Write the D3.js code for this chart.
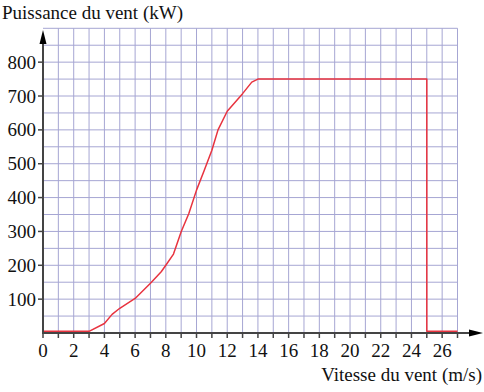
<!DOCTYPE html>
<html>
<head>
<meta charset="utf-8">
<script src="https://cdn.jsdelivr.net/npm/d3@7"></script>
<style>
  body { margin: 0; background: #fff; }
</style>
</head>
<body>
<svg width="484" height="392"></svg>
<script>
// vitesse du vent (m/s) et puissance (kW)
var vitesse = [0, 3, 4, 4.5, 5, 6, 7, 7.7, 8, 8.5, 9, 9.5, 10, 10.5, 11, 11.4, 12, 13, 13.6, 14, 25, 25, 27];
var puissance = [5, 5, 28, 55, 73, 102, 147, 181, 200, 233, 299, 353, 422, 480, 540, 600, 655, 707, 741, 750, 750, 5, 5];
var xTicks = [0, 2, 4, 6, 8, 10, 12, 14, 16, 18, 20, 22, 24, 26];
var yTicks = [100, 200, 300, 400, 500, 600, 700, 800];

var svg = d3.select('svg')
    .attr('font-family', "'Liberation Serif', 'DejaVu Serif', 'Times New Roman', serif");

// échelles
var x = d3.scaleLinear().domain([0, 27]).range([43, 457.5]);
var y = d3.scaleLinear().domain([0, 900]).range([333, 28.3]);

// quadrillage
var grid = svg.append('g').attr('stroke', '#a6a6d3').attr('stroke-width', 1);
grid.selectAll('line.v')
    .data(d3.range(1, 28))
    .enter().append('line')
    .attr('x1', d => x(d)).attr('x2', d => x(d))
    .attr('y1', y(0)).attr('y2', y(900));
grid.selectAll('line.h')
    .data(d3.range(50, 901, 50))
    .enter().append('line')
    .attr('x1', x(0)).attr('x2', x(27))
    .attr('y1', d => y(d)).attr('y2', d => y(d));

// courbe
var pts = vitesse.map((v, i) => [v, puissance[i]]);
var line = d3.line().x(d => x(d[0])).y(d => y(d[1]));
svg.append('path')
    .datum(pts)
    .attr('d', line)
    .attr('fill', 'none')
    .attr('stroke', '#e8333f')
    .attr('stroke-width', 1.5)
    .attr('stroke-linejoin', 'round');

// axes
var axisCol = '#444';
svg.append('line')
    .attr('x1', x(0)).attr('x2', 471)
    .attr('y1', y(0)).attr('y2', y(0))
    .attr('stroke', axisCol).attr('stroke-width', 2);
svg.append('line')
    .attr('x1', x(0)).attr('x2', x(0))
    .attr('y1', y(0) + 1).attr('y2', 42)
    .attr('stroke', axisCol).attr('stroke-width', 2);
// flèches
svg.append('path')
    .attr('d', `M483,${y(0)} L469,${y(0) - 3.5} L469,${y(0) + 3.5} Z`)
    .attr('fill', '#000');
svg.append('path')
    .attr('d', `M${x(0)},30 L${x(0) - 3.5},44 L${x(0) + 3.5},44 Z`)
    .attr('fill', '#000');

// graduations x
svg.selectAll('line.xt')
    .data(d3.range(0, 28))
    .enter().append('line')
    .attr('x1', d => x(d)).attr('x2', d => x(d))
    .attr('y1', y(0)).attr('y2', y(0) + 5)
    .attr('stroke', axisCol).attr('stroke-width', 1.5);
svg.selectAll('text.xl')
    .data(xTicks)
    .enter().append('text')
    .attr('x', d => x(d)).attr('y', 357)
    .attr('text-anchor', 'middle')
    .attr('font-size', 19)
    .attr('fill', '#111')
    .text(d => d);

// graduations y
svg.selectAll('line.yt')
    .data(yTicks)
    .enter().append('line')
    .attr('x1', x(0) - 5).attr('x2', x(0))
    .attr('y1', d => y(d)).attr('y2', d => y(d))
    .attr('stroke', axisCol).attr('stroke-width', 1.5);
svg.selectAll('text.yl')
    .data(yTicks)
    .enter().append('text')
    .attr('x', 36).attr('y', d => y(d) + 6.5)
    .attr('text-anchor', 'end')
    .attr('font-size', 19)
    .attr('fill', '#111')
    .text(d => d);

// titres
svg.append('text')
    .attr('x', 2).attr('y', 19)
    .attr('font-size', 19)
    .attr('fill', '#111')
    .text('Puissance du vent (kW)');
svg.append('text')
    .attr('x', 482).attr('y', 381)
    .attr('text-anchor', 'end')
    .attr('font-size', 19)
    .attr('fill', '#111')
    .text('Vitesse du vent (m/s)');
</script>
</body>
</html>
